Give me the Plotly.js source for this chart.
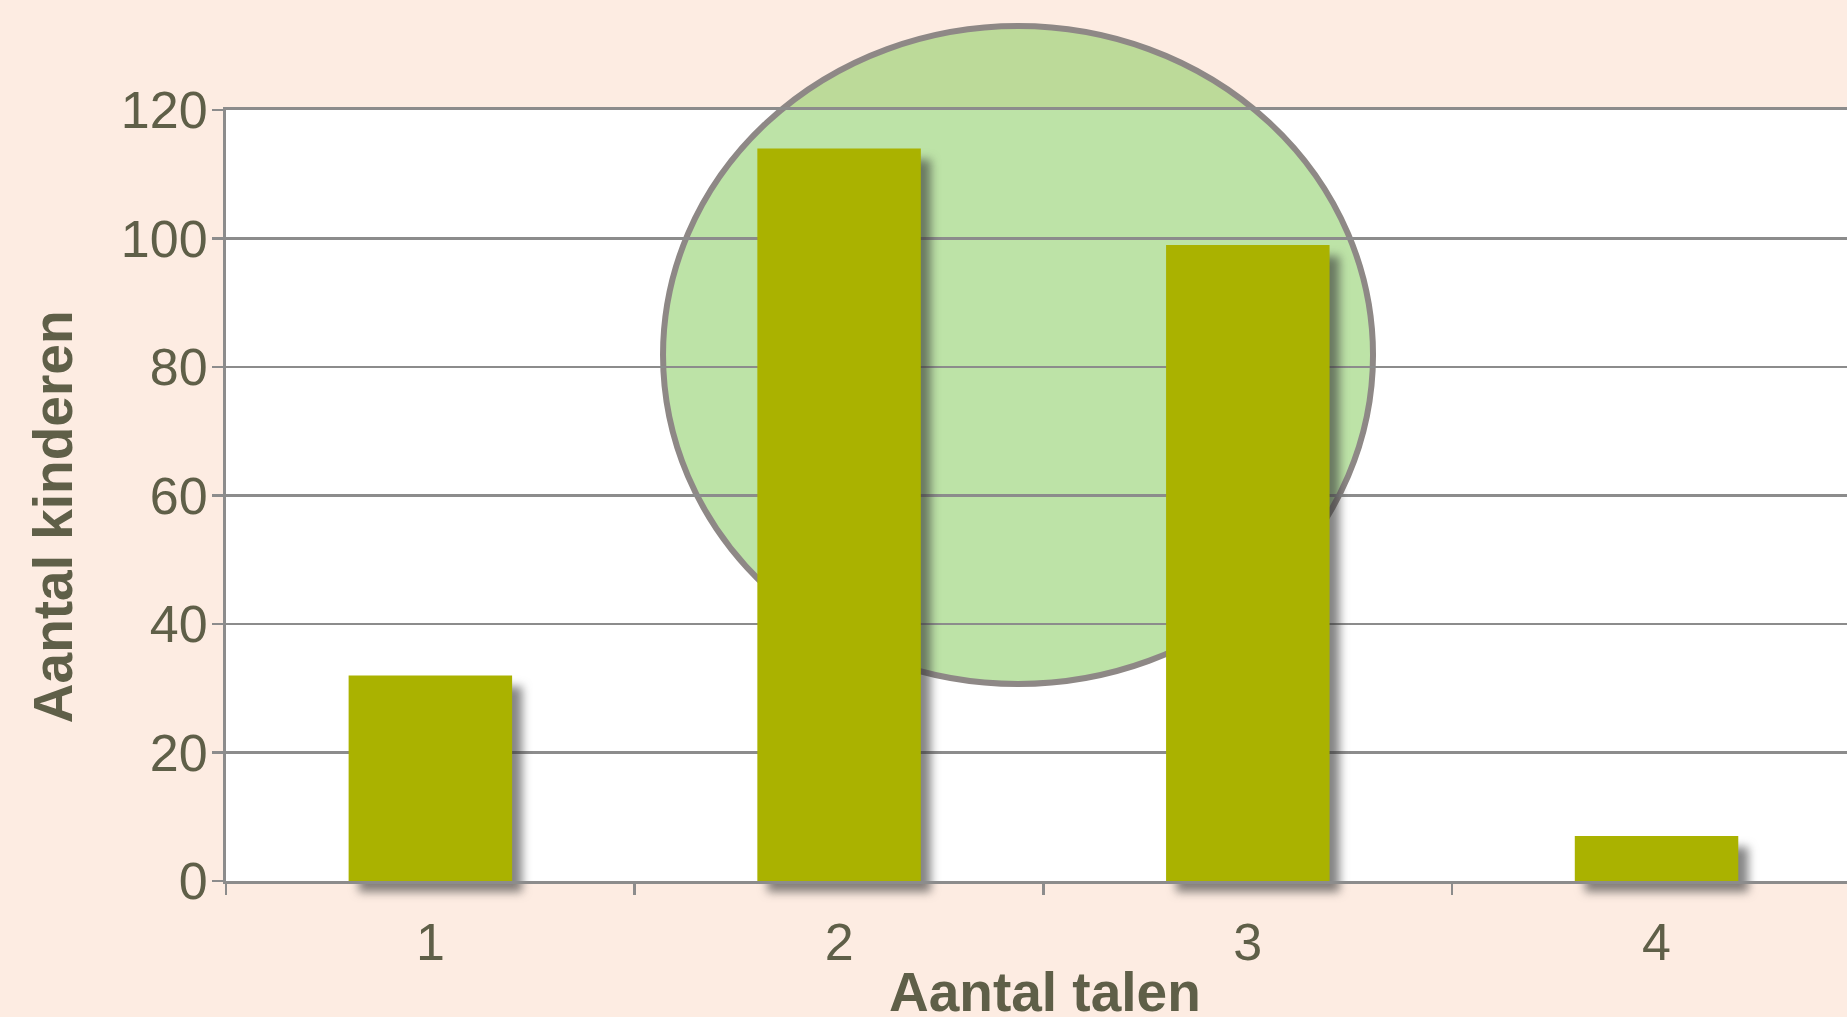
<!DOCTYPE html>
<html>
<head>
<meta charset="utf-8">
<script src="https://cdn.plot.ly/plotly-3.0.1.min.js"></script>
<style>
  html, body { margin: 0; padding: 0; background: #FDECE2; }
  #chart { width: 1847px; height: 1017px; }
  .barlayer .point path { filter: url(#barShadow); }
</style>
</head>
<body>
<svg width="0" height="0" style="position:absolute">
  <defs>
    <filter id="barShadow" x="-30%" y="-60%" width="180%" height="320%" color-interpolation-filters="sRGB">
      <feDropShadow dx="10" dy="11" stdDeviation="5" flood-color="#333333" flood-opacity="0.6"/>
    </filter>
  </defs>
</svg>
<div id="chart"></div>
<script>
// Data
const categories = ['1', '2', '3', '4'];
const children = [32, 114, 99, 7];
const yTickValues = [0, 20, 40, 60, 80, 100, 120];
const xTitle = 'Aantal talen';
const yTitle = 'Aantal kinderen';

const textColor = '#5F5F48';
const gridColor = '#8C8C8C';
const fontFamily = '"Liberation Sans", Arial, sans-serif';

const trace = {
  type: 'bar',
  x: categories,
  y: children,
  width: 0.4,
  marker: { color: '#AAB200', line: { width: 0 } },
  hoverinfo: 'x+y'
};

const titleFont = { family: fontFamily, size: 55, color: textColor, weight: 'bold' };

const layout = {
  width: 1847,
  height: 1017,
  paper_bgcolor: '#FDECE2',
  plot_bgcolor: '#FFFFFF',
  margin: { l: 226, r: 0, t: 110, b: 136, pad: 0 },
  showlegend: false,
  font: { family: fontFamily, color: textColor, size: 52 },
  xaxis: {
    type: 'category',
    range: [-0.5, 3.466],
    tickson: 'boundaries',
    ticks: 'outside',
    ticklen: 11,
    tickwidth: 2.5,
    tickcolor: gridColor,
    showline: true,
    mirror: true,
    linecolor: gridColor,
    linewidth: 3,
    showgrid: false,
    zeroline: false,
    ticklabelstandoff: 14,
    tickfont: { family: fontFamily, size: 52, color: textColor },
    automargin: false,
    fixedrange: true
  },
  yaxis: {
    range: [0, 120],
    tickvals: yTickValues,
    ticks: 'outside',
    ticklen: 11,
    tickwidth: 2.5,
    tickcolor: gridColor,
    showline: true,
    linecolor: gridColor,
    linewidth: 3,
    showgrid: true,
    gridcolor: gridColor,
    gridwidth: 2.5,
    zeroline: false,
    ticklabelstandoff: -6,
    tickfont: { family: fontFamily, size: 52, color: textColor },
    automargin: false,
    fixedrange: true
  },
  annotations: [
    {
      text: xTitle, font: titleFont, showarrow: false,
      xref: 'paper', yref: 'paper',
      x: 0.5052, y: -0.144, xanchor: 'center', yanchor: 'middle'
    },
    {
      text: yTitle, font: titleFont, showarrow: false, textangle: -90,
      xref: 'paper', yref: 'paper',
      x: -0.1067, y: 0.472, xanchor: 'center', yanchor: 'middle'
    }
  ],
  shapes: [
    {
      type: 'circle',
      xref: 'paper', yref: 'paper',
      x0: 0.2696, x1: 0.7076,
      y0: 0.2555, y1: 1.109,
      layer: 'below',
      fillcolor: 'rgba(123,199,79,0.5)',
      line: { color: '#8E8886', width: 6 }
    }
  ]
};

Plotly.newPlot('chart', [trace], layout, { displayModeBar: false, staticPlot: true }).then(function () {
  document.querySelectorAll('.cartesianlayer [clip-path]').forEach(function (g) {
    g.removeAttribute('clip-path');
    g.style.clipPath = 'none';
  });
});
</script>
</body>
</html>
